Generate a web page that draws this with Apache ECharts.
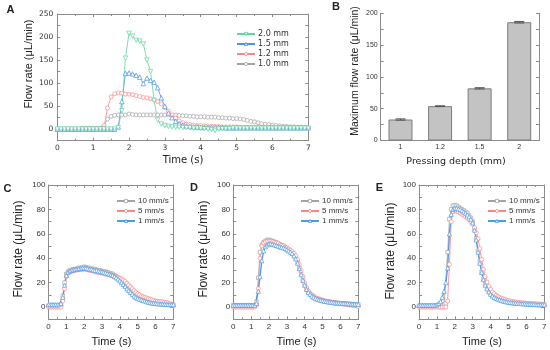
<!DOCTYPE html>
<html><head><meta charset="utf-8">
<script src="https://cdn.jsdelivr.net/npm/echarts@6/dist/echarts.min.js"></script>
<style>html,body{margin:0;padding:0;background:#fff}#c{width:550px;height:350px}</style>
</head><body><div id="c"></div>
<script>
// ---------- DATA ----------
const times = [0,0.1,0.2,0.3,0.4,0.5,0.6,0.7,0.8,0.9,
 1,1.1,1.2,1.3,1.4,1.5,1.6,1.7,1.8,1.9,
 2,2.1,2.2,2.3,2.4,2.5,2.6,2.7,2.8,2.9,
 3,3.1,3.2,3.3,3.4,3.5,3.6,3.7,3.8,3.9,
 4,4.1,4.2,4.3,4.4,4.5,4.6,4.7,4.8,4.9,
 5,5.1,5.2,5.3,5.4,5.5,5.6,5.7,5.8,5.9,
 6,6.1,6.2,6.3,6.4,6.5,6.6,6.7,6.8,6.9,
 7];

// Panel A: pressing depth
const depth20 = [0,0,0,0,0,0,0,0,0,0,
 0,0,0,0,0,0,0,3,40,154,
 208,202,193,191,185,150,125,62,20,11,
 8,6,5,4,4,3,3,3,2,2,
 2,1,0,-1,-3,0,1,1,1,2,
 2,2,2,2,2,2,2,2,2,2,
 2,2,2,2,2,2,2,2,2,2,
 2];
const depth15 = [0,0,0,0,0,0,0,0,0,0,
 0,0,0,0,0,0,0,5,60,121,
 122,120,117,113,99,111,106,102,90,68,
 50,35,25,17,12,9,7,6,5,5,
 4,4,4,4,4,4,4,3,3,3,
 3,3,3,3,3,3,3,3,3,3,
 3,3,3,3,3,3,3,3,3,3,
 3];
const depth12 = [0,0,0,0,0,0,0,0,0,0,
 0,0,0,3,46,70,77,79,78,76,
 76,75,73,71,69,68,66,64,60,55,
 47,39,31,24,18,14,11,10,9,8,
 8,7,7,6,6,6,5,5,5,5,
 5,4,4,4,4,4,4,4,4,4,
 4,3,3,3,3,3,3,3,3,3,
 3];
const depth10 = [0,0,0,0,0,0,0,2,2,2,
 2,2,2,8,22,28,30,31,31,31,
 33,32,31,31,31,31,31,31,31,31,
 31,31,30,30,30,29,29,28,28,27,
 27,27,26,26,26,25,25,24,24,23,
 23,22,21,19,17,16,14,12,11,10,
 9,8,7,6,6,5,5,4,4,4,
 3];
const depthNames = ['2.0 mm','1.5 mm','1.2 mm','1.0 mm'];

// Panel B
const depthLabels = ['1','1.2','1.5','2'];
const maxFlow = [33,54,82,186];
const maxFlowErr = [1,0.6,1,1.2];

// Panel C/D/E: pressing speed
const speedNames = ['10 mm/s','5 mm/s','1 mm/s'];
const c10 = [1,1,1,1,1,1,1,2,9,20,
 27,29,30,30.5,31,31,31.5,32,32,32.5,
 33,32.5,32,32,31.5,31,31,30.5,30,30,
 29.5,29,29,28.5,28,27.5,27,26,25,24,
 23,21,19.5,18,16,14.5,13,11.5,10,9,
 8,7,6.5,6,5.5,5,4.5,4.2,4,3.7,
 3.4,3.2,3,2.8,2.6,2.5,2.4,2.3,2.2,2.1,
 2];
const c5 = [0,0,0,0,0,0,0,0,5,15,
 25,28,29,29.5,30,30,30.5,30.5,31,31,
 31,31,30.5,30,30,29.5,29,28.5,28.5,28,
 28,27.5,27,27,26.5,26,25.5,25,24.5,24,
 23.5,23,22,21,19.5,18,16.5,15,13.5,12,
 11,10,9,8.5,8,7.5,7,6.5,6,5.5,
 5,4.8,4.6,4.4,4.2,4,3.8,3.5,3,2,
 1];
const c1 = [2,2,2,2,2,2,2,3,8,18,
 26,28.5,29.5,30,30.5,31,31,31.5,31.5,32,
 32,32,31.5,31,31,30.5,30,30,29.5,29,
 29,28.5,28,27.5,27,26.5,26,25,24,23,
 21.5,20,18.5,17,15,13.5,12,10.5,9,8,
 7,6.5,6,5.5,5,4.5,4,3.7,3.4,3.2,
 3,2.8,2.6,2.5,2.4,2.3,2.2,2.1,2,2,
 2];
const d10 = [1.5,1.5,1.5,1.5,1.5,1.5,1.5,1.5,1.5,1.5,
 1.5,1.5,1.5,4,24,45,51,53,54,55,
 55,54.5,54,53.5,53,52,51.5,50.5,50,49,
 48,47,46,44.5,42.5,40,36.5,32,27,22,
 18,15,12.5,11,9.5,8.5,7.5,7,6.5,6,
 5.5,5,4.8,4.5,4.3,4,3.8,3.6,3.4,3.2,
 3,2.9,2.8,2.7,2.6,2.5,2.4,2.3,2.2,2.1,
 2];
const d5 = [0,0,0,0,0,0,0,0,0,0,
 0,0,0,2,15,40,50,52.5,53.5,54,
 54,54,53.5,53,52.5,52,51,50.5,50,49,
 48.5,47.5,46.5,45.5,44,42,39,35,30,25,
 20,16,13,11,9.5,8.5,7.5,7,6.5,6,
 5.5,5,4.7,4.4,4.1,3.8,3.6,3.4,3.2,3,
 2.8,2.6,2.4,2.2,2,1.8,1.6,1.4,1.2,1,
 0.5];
const d1 = [1.5,1.5,1.5,1.5,1.5,1.5,1.5,1.5,1.5,1.5,
 1.5,1.5,1.5,3,13,25,38,46,49.5,51,
 52,52,51.5,51,50.5,50,49.5,49,48.5,48,
 47,46,45,44,42,39.5,36,31.5,26.5,22,
 18,14.5,12,10.5,9,8,7.2,6.6,6,5.6,
 5.2,4.9,4.6,4.3,4.1,3.9,3.7,3.5,3.4,3.3,
 3.2,3.1,3,2.9,2.8,2.7,2.6,2.5,2.4,2.3,
 2.2];
const e10 = [1,1,1,1,1,1,1,1,1,1,
 1,1,1,1.5,2,3,45,72,80,83,
 83.5,83,82,81,80,79,78,77,75,73,
 70,64,56,46,37,29,23,19,15.5,13,
 11,9.5,8.5,7.5,6.8,6.2,5.6,5.2,4.8,4.5,
 4.2,4,3.8,3.6,3.4,3.2,3.1,3,2.9,2.8,
 2.7,2.6,2.5,2.4,2.3,2.2,2.1,2,2,2,
 2];
const e5 = [0,0,0,0,0,0,0,0,0,0,
 0,0,0,0,0,0,5,35,70,78,
 79,78.5,78,77,76,75,74,73,71.5,70,
 68,65,61,56,48,39,31,25,20.5,17,
 14.5,12.5,11,9.8,8.8,8,7.3,6.7,6.2,5.7,
 5.3,5,4.7,4.4,4.2,4,3.8,3.6,3.4,3.3,
 3.2,3.1,3,2.9,2.8,2.7,2.6,2.5,2.4,2.3,
 2.2];
const e1 = [1.5,1.5,1.5,1.5,1.5,1.5,1.5,1.5,1.5,1.5,
 2,3,4.5,8,13,20,32,60,76,80,
 81,81,80.5,80,79,78,77,75.5,74,72,
 69,63,55,45,36,28.5,22.5,18,15,12.5,
 10.5,9,8,7.2,6.5,6,5.5,5,4.6,4.3,
 4,3.8,3.6,3.4,3.2,3.1,3,2.9,2.8,2.7,
 2.6,2.5,2.4,2.3,2.2,2.1,2,2,1.9,1.9,
 1.9];

// ---------- STYLE / LAYOUT ----------
const FT = 'DejaVu Sans', FA = 'Liberation Sans';
const frameColor = '#8c8c8c', labColor = '#333';
const grids = [
  {left:57.3, top:14, width:251, height:126.7},
  {left:380.7, top:13.3, width:158.3, height:127.2},
  {left:48.5, top:185, width:124.8, height:134.3},
  {left:233.3, top:185, width:125, height:134.3},
  {left:419, top:185, width:125.3, height:134.3}
];
const tickStyle = {color: frameColor, width: 1};

function xVal(g, pos, show, ff, fs, margin) {
  return {type:'value', gridIndex:g, position:pos, min:0, max:7, interval:1,
    axisLine:{show:true, onZero:false, lineStyle:tickStyle},
    axisTick:{show:true, inside:true, length:3, lineStyle:tickStyle},
    minorTick:{show:true, splitNumber:2, length:2, lineStyle:tickStyle},
    axisLabel:{show:show, fontSize:fs, fontFamily:ff, color:labColor, margin:margin},
    splitLine:{show:false}};
}
function yVal(g, pos, show, ff, fs, margin, min, max, step, labStep) {
  return {type:'value', gridIndex:g, position:pos, min:min, max:max, interval:step,
    axisLine:{show:true, onZero:false, lineStyle:tickStyle},
    axisTick:{show:true, inside:true, length:3, lineStyle:tickStyle},
    axisLabel:{show:show, fontSize:fs, fontFamily:ff, color:labColor, margin:margin,
      formatter: v => (v >= 0 && Math.abs(v % labStep) < 1e-9) ? String(v) : ''},
    splitLine:{show:false}};
}

const xAxis = [
  xVal(0,'bottom',true,FT,7.5,3), xVal(0,'top',false,FT,7.5,3),
  {type:'category', gridIndex:1, position:'bottom', data:depthLabels,
    axisLine:{show:true, lineStyle:tickStyle},
    axisTick:{show:true, inside:true, length:3, alignWithLabel:true, lineStyle:tickStyle},
    axisLabel:{fontSize:7, fontFamily:FA, color:labColor, margin:3}},
  {type:'category', gridIndex:1, position:'top', data:depthLabels,
    axisLine:{show:true, lineStyle:tickStyle}, axisTick:{show:false}, axisLabel:{show:false}},
  xVal(2,'bottom',true,FA,8,3), xVal(2,'top',false,FA,8,3),
  xVal(3,'bottom',true,FA,8,3), xVal(3,'top',false,FA,8,3),
  xVal(4,'bottom',true,FA,8,3), xVal(4,'top',false,FA,8,3)
];
const yAxis = [
  yVal(0,'left',true,FT,7.5,4,-25,250,25,50), yVal(0,'right',false,FT,7.5,4,-25,250,25,50),
  yVal(1,'left',true,FA,7,3,0,200,25,50), yVal(1,'right',false,FA,7,3,0,200,25,50),
  yVal(2,'left',true,FA,8,3,-10,100,10,20), yVal(2,'right',false,FA,8,3,-10,100,10,20),
  yVal(3,'left',true,FA,8,3,-10,100,10,20), yVal(3,'right',false,FA,8,3,-10,100,10,20),
  yVal(4,'left',true,FA,8,3,-10,100,10,20), yVal(4,'right',false,FA,8,3,-10,100,10,20)
];

function line(name, g, vals, color, symbol, rot, lw, size) {
  return {type:'line', name:name, xAxisIndex:2*g, yAxisIndex:2*g,
    data: times.map((t,i)=>[t, vals[i]]),
    symbol:symbol, symbolSize:size || 4, symbolRotate:rot, showSymbol:true,
    lineStyle:{color:color, width:lw},
    itemStyle:{color:'#ffffff', borderColor:color, borderWidth:0.7},
    emphasis:{disabled:true}, animation:false, z:3};
}
const green = '#5fd69d', blue = '#4b92ea', red = '#ff8585', gray = '#a3a3a3';
const blue2 = '#4d9ae8';

const series = [
  line(depthNames[3], 0, depth10, gray, 'circle', 0, 0.8),
  line(depthNames[2], 0, depth12, red, 'circle', 0, 0.8),
  line(depthNames[1], 0, depth15, blue, 'triangle', 0, 0.8, 4.5),
  line(depthNames[0], 0, depth20, green, 'triangle', 180, 0.8, 4.5),
  {type:'bar', xAxisIndex:2, yAxisIndex:2, data:maxFlow, barWidth:24,
    itemStyle:{color:'#c3c3c3', borderColor:'#7d7d7d', borderWidth:1}, animation:false},
  {type:'custom', xAxisIndex:2, yAxisIndex:2, animation:false, z:5,
    data: maxFlow.map((v,i)=>[i, v, maxFlowErr[i]]),
    renderItem: function(params, api) {
      const hi = api.coord([api.value(0), api.value(1) + api.value(2)]);
      const lo = api.coord([api.value(0), api.value(1) - api.value(2)]);
      const w = 5, st = {stroke:'#555', lineWidth:1};
      return {type:'group', children:[
        {type:'line', shape:{x1:hi[0], y1:hi[1], x2:lo[0], y2:lo[1]}, style:st},
        {type:'line', shape:{x1:hi[0]-w, y1:hi[1], x2:hi[0]+w, y2:hi[1]}, style:st},
        {type:'line', shape:{x1:lo[0]-w, y1:lo[1], x2:lo[0]+w, y2:lo[1]}, style:st}
      ]};
    }}
];
const speedData = [[c10,c5,c1],[d10,d5,d1],[e10,e5,e1]];
speedData.forEach((arr, k) => {
  const g = k + 2;
  series.push(line(speedNames[0], g, arr[0], gray, 'rect', 0, 0.8, 3.6));
  series.push(line(speedNames[1], g, arr[1], red, 'circle', 0, 0.8, 4));
  series.push(line(speedNames[2], g, arr[2], blue2, 'triangle', 0, 1.3, 4.2));
});

function legend(names, left, top, ff) {
  return {data:names, left:left, top:top, orient:'vertical', padding:0,
    itemWidth:18, itemHeight:4, itemGap:0, selectedMode:false,
    itemStyle:{color:'#ffffff', borderColor:'inherit', borderWidth:0.8},
    textStyle:{fontSize:8, fontFamily:ff, color:labColor, lineHeight:10, padding:[0,0,0,-2]}};
}

function txt(x, y, s, font, rot) {
  return {type:'text', x:x, y:y, rotation:rot||0, silent:true,
    style:{text:s, font:font, fill:'#222', align:'center', verticalAlign:'middle'}};
}
const R = Math.PI/2;
const graphic = [
  txt(10.5, 9.5, 'A', 'bold 11px "Liberation Sans"'),
  txt(336, 7, 'B', 'bold 11px "Liberation Sans"'),
  txt(7.5, 188.5, 'C', 'bold 11px "Liberation Sans"'),
  txt(194, 188, 'D', 'bold 11px "Liberation Sans"'),
  txt(379.5, 187.5, 'E', 'bold 11px "Liberation Sans"'),
  txt(29, 64, 'Flow rate (\u03bcL/min)', '11px "Liberation Sans"', R),
  txt(183, 160, 'Time (s)', '10px "DejaVu Sans"'),
  txt(355, 71, 'Maximum flow rate (\u03bcL/min)', '10.5px "Liberation Sans"', R),
  txt(456, 161.5, 'Pressing depth (mm)', '9.5px "DejaVu Sans"'),
  txt(19, 249, 'Flow rate (\u03bcL/min)', '12px "Liberation Sans"', R),
  txt(204, 249, 'Flow rate (\u03bcL/min)', '12px "Liberation Sans"', R),
  txt(390.5, 251, 'Flow rate (\u03bcL/min)', '12px "Liberation Sans"', R),
  txt(111.5, 341.5, 'Time (s)', '11px "Liberation Sans"'),
  txt(296.5, 341.5, 'Time (s)', '11px "Liberation Sans"'),
  txt(482, 341.5, 'Time (s)', '11px "Liberation Sans"')
];

const chart = echarts.init(document.getElementById('c'), null, {renderer:'canvas'});
chart.setOption({
  animation:false,
  backgroundColor:'#fff',
  grid: grids,
  xAxis: xAxis,
  yAxis: yAxis,
  legend: [
    legend(depthNames, 236, 29, FT),
    legend(speedNames, 116, 196, FA),
    legend(speedNames, 300, 196, FA),
    legend(speedNames, 487, 196, FA)
  ],
  graphic: graphic,
  series: series
});
</script></body></html>
